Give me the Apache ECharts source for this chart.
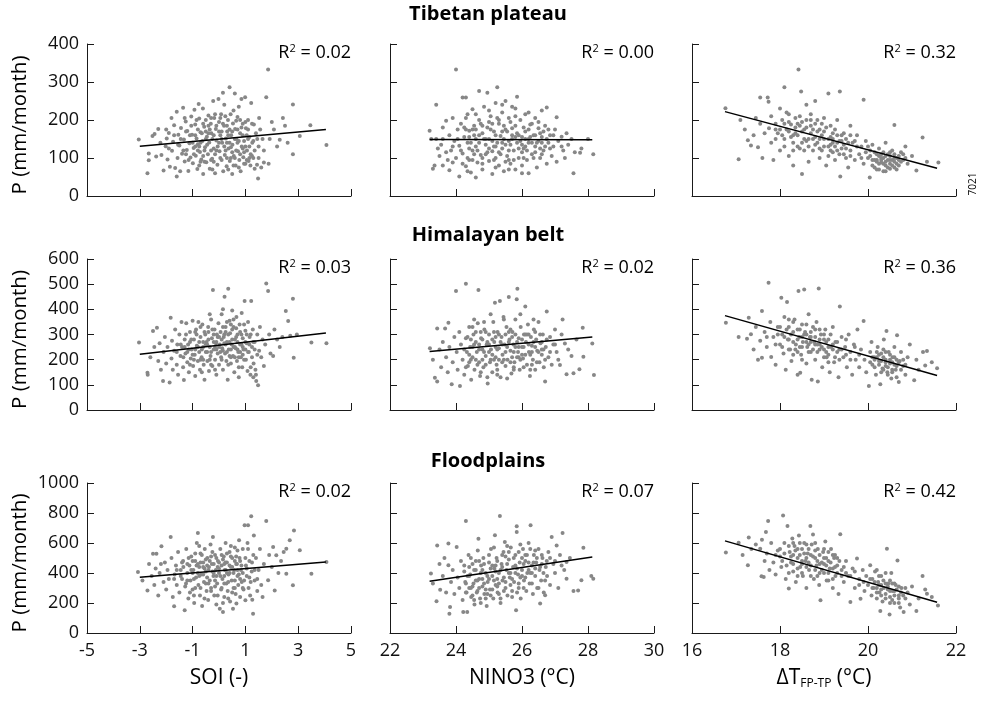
<!DOCTYPE html>
<html>
<head>
<meta charset="utf-8">
<script src="https://cdn.jsdelivr.net/npm/echarts@6/dist/echarts.min.js"></script>
<style>
html,body{margin:0;padding:0;background:#fff;}
#chart{width:982px;height:702px;}
</style>
</head>
<body>
<div id="chart"></div>
<script>
// ---------------- DATA ----------------
const rowTitles = ['Tibetan plateau', 'Himalayan belt', 'Floodplains'];
const xAxisNames = ['SOI (-)', 'NINO3 (°C)', 'ΔT_FP-TP (°C)'];
const yAxisName = 'P (mm/month)';
const xTicks = [[-5, -3, -1, 1, 3, 5], [22, 24, 26, 28, 30], [16, 18, 20, 22]];
const yTicks = [[0, 100, 200, 300, 400], [0, 100, 200, 300, 400, 500, 600], [0, 200, 400, 600, 800, 1000]];
const r2Values = [['0.02', '0.00', '0.32'], ['0.03', '0.02', '0.36'], ['0.02', '0.07', '0.42']];
const figureId = '7021';

// regression line end points [x, P]
const tpSoiFit = [[-3, 131], [4.05, 175]];
const tpNinoFit = [[23.2, 149], [28.13, 148]];
const tpDtFit = [[16.75, 222], [21.57, 73]];
const hbSoiFit = [[-3, 222], [4.05, 306]];
const hbNinoFit = [[23.2, 232], [28.13, 290]];
const hbDtFit = [[16.75, 375], [21.57, 137]];
const fpSoiFit = [[-3, 371], [4.05, 473]];
const fpNinoFit = [[23.2, 345], [28.13, 507]];
const fpDtFit = [[16.75, 614], [21.57, 205]];

// Tibetan plateau points [x, P]
const tpSoi = [[-3.04,149],[-2.71,60],[-2.66,112],[-2.66,94],[-2.52,158],[-2.44,163],[-2.38,104],[-2.3,176],[-2.22,140],[-2.18,108],[-2.1,67],[-2.02,131],[-1.98,151],[-1.95,96],[-1.9,166],[-1.86,77],[-1.8,205],[-1.78,119],[-1.74,143],[-1.7,186],[-1.66,74],[-1.6,222],[-1.6,51],[-1.57,100],[-1.54,161],[-1.5,133],[-1.47,65],[-1.44,179],[-1.4,111],[-1.36,232],[-1.33,149],[-1.3,91],[-1.26,196],[-1.22,121],[-1.2,171],[-1.16,66],[-1.12,139],[-1.08,101],[-1.05,209],[-1.02,161],[-0.99,86],[-0.96,126],[-0.93,227],[-0.9,188],[-0.88,106],[-0.85,151],[-0.82,71],[-0.8,136],[-0.77,242],[-0.75,204],[-0.72,116],[-0.7,168],[-0.67,96],[-0.63,145],[-0.61,230],[-0.6,58],[-0.56,182],[-0.53,128],[-0.5,200],[-0.48,89],[-0.46,156],[-0.42,110],[-0.4,212],[-0.37,141],[-0.35,72],[-0.31,190],[-0.29,165],[-0.26,98],[-0.22,250],[-0.2,125],[-0.18,205],[-0.15,60],[-0.12,176],[-0.1,146],[-0.06,82],[-0.02,255],[0.0,195],[0.02,118],[0.05,160],[0.08,215],[0.1,95],[0.12,140],[0.15,272],[0.16,65],[0.19,185],[0.22,108],[0.24,210],[0.26,151],[0.29,78],[0.31,170],[0.34,200],[0.36,125],[0.4,286],[0.41,92],[0.44,215],[0.46,160],[0.5,58],[0.51,135],[0.53,191],[0.56,105],[0.6,270],[0.61,176],[0.63,80],[0.66,150],[0.7,208],[0.72,118],[0.75,235],[0.77,95],[0.8,165],[0.82,65],[0.85,255],[0.86,130],[0.9,190],[0.92,102],[0.95,145],[0.99,260],[1.0,85],[1.02,178],[1.06,120],[1.1,200],[1.12,92],[1.15,155],[1.19,80],[1.22,245],[1.26,140],[1.3,100],[1.32,188],[1.35,72],[1.4,165],[1.44,82],[1.48,46],[1.5,130],[1.52,205],[1.56,175],[1.6,75],[1.65,150],[1.7,88],[1.79,260],[1.86,333],[1.88,85],[1.92,150],[2.0,195],[2.08,175],[2.2,130],[2.3,148],[2.42,205],[2.5,185],[2.6,140],[2.8,241],[2.8,110],[3.06,158],[3.46,186],[4.07,134],[-0.9,160],[-0.7,140],[-0.5,170],[-0.3,120],[-0.1,185],[0.1,170],[0.3,140],[0.5,115],[0.7,175],[0.9,160],[-0.6,105],[-0.2,160],[0.2,130],[0.6,150],[1.0,130],[-1.0,140],[-0.4,185],[0.4,175],[0.8,110],[-0.8,175],[0.0,140],[0.3,100],[-0.3,95],[0.65,198],[0.05,205],[-0.55,120],[1.25,105],[1.1,150],[0.45,128],[-0.15,110],
[-1.45,150],[-1.35,120],[-1.25,170],[-1.15,95],[-1.05,185],[-0.95,110],[-0.85,200],[-0.75,130],[-0.65,165],[-0.55,90],[-0.45,135],[-0.35,175],[-0.25,150],[-0.15,215],[-0.05,130],[0.05,100],[0.15,190],[0.25,120],[0.35,160],[0.45,100],[0.55,225],[0.65,120],[0.75,145],[0.85,180],[0.95,115],[1.05,160],[1.15,130],[1.25,190],[1.35,120],[1.45,150],[-1.9,125],[-1.7,160],[-2.0,175],[-1.3,205],[-1.1,160],[-0.9,130],[-0.7,90],[-0.5,150],[-0.3,205],[-0.1,120],[0.1,150],[0.3,185],[0.5,170],[0.7,140],[0.9,125],[1.1,175],[1.3,145],[1.5,100],[1.7,120],[-0.8,120],[-0.6,190],[-0.4,165],[-0.2,90],[0.0,170],[0.2,240],[0.4,140],[0.6,100],[0.8,200],[1.0,195],[1.2,110],[0.95,85],[1.05,95],[1.15,100],[0.75,75],[0.55,80],[0.35,70],[-0.25,70],[-0.75,80],[-1.25,110],[-1.55,135]];
const tpNino = [[23.2,172],[23.25,150],[23.3,72],[23.35,80],[23.4,240],[23.4,150],[23.45,125],[23.5,105],[23.55,135],[23.6,180],[23.6,80],[23.7,198],[23.75,95],[23.8,160],[23.8,68],[23.85,120],[23.9,205],[23.9,88],[23.95,145],[24.0,333],[24.0,100],[24.05,175],[24.1,51],[24.1,132],[24.15,190],[24.2,259],[24.2,112],[24.25,155],[24.3,259],[24.3,78],[24.35,215],[24.35,140],[24.4,95],[24.4,172],[24.45,62],[24.5,228],[24.5,120],[24.55,185],[24.6,49],[24.6,150],[24.65,88],[24.7,276],[24.7,200],[24.75,108],[24.8,165],[24.8,70],[24.85,235],[24.9,135],[24.95,272],[24.95,180],[25.0,92],[25.0,150],[25.05,210],[25.1,58],[25.1,118],[25.15,170],[25.2,245],[25.2,100],[25.25,286],[25.25,140],[25.3,190],[25.3,80],[25.35,158],[25.4,220],[25.4,125],[25.45,65],[25.5,175],[25.5,250],[25.55,105],[25.6,145],[25.6,205],[25.65,85],[25.7,235],[25.7,160],[25.75,120],[25.8,185],[25.8,70],[25.85,261],[25.85,140],[25.9,100],[25.95,200],[26.0,155],[26.0,80],[26.05,125],[26.1,215],[26.1,170],[26.15,95],[26.2,140],[26.2,60],[26.25,188],[26.3,110],[26.35,160],[26.4,205],[26.4,130],[26.45,75],[26.5,178],[26.5,145],[26.55,100],[26.6,225],[26.6,155],[26.65,120],[26.7,185],[26.75,233],[26.75,85],[26.8,140],[26.85,160],[26.9,105],[26.95,130],[27.0,175],[27.05,207],[27.05,90],[27.1,145],[27.2,156],[27.25,120],[27.3,100],[27.35,165],[27.4,135],[27.5,150],[27.56,60],[27.6,115],[27.76,114],[27.8,125],[28.0,150],[28.16,110],[24.4,155],[24.6,130],[24.8,185],[25.0,125],[25.2,160],[25.4,140],[25.6,120],[25.8,155],[26.0,135],[26.2,175],[26.4,115],[26.6,140],[24.9,110],[25.3,200],[25.7,178],[26.1,150],[24.5,95],[25.5,90],[26.3,190],[24.7,160],[25.9,125],[25.1,145],[26.7,130],[24.3,175],[25.45,185],[26.55,165],[25.15,95],[24.55,110],[26.05,100],[25.65,195],
[24.05,150],[24.15,120],[24.25,180],[24.35,100],[24.45,140],[24.55,160],[24.65,120],[24.75,190],[24.85,150],[24.95,115],[25.05,175],[25.15,130],[25.25,205],[25.35,110],[25.45,150],[25.55,170],[25.65,135],[25.75,95],[25.85,165],[25.95,145],[26.05,180],[26.15,120],[26.25,155],[26.35,100],[26.45,140],[26.55,125],[26.65,170],[26.75,150],[26.85,125],[26.95,160],[24.2,85],[24.4,125],[24.6,175],[24.8,100],[25.0,195],[25.2,130],[25.4,170],[25.6,95],[25.8,210],[26.0,115],[26.2,150],[26.4,160],[26.6,110],[26.8,175],[24.3,205],[24.7,140],[25.1,190],[25.5,135],[25.9,160],[26.3,140],[24.5,175],[24.9,150],[25.3,115],[25.7,150],[26.1,130],[26.5,195],[23.9,130],[23.7,115],[23.6,150],[27.2,130],[25.2,75],[24.8,85],[25.6,70],[24.35,65],[26.0,60],[25.0,225],[25.4,240],[24.6,215],[26.2,220],[25.8,230]];
const tpDt = [[16.76,231],[17.06,97],[17.1,200],[17.2,175],[17.27,147],[17.34,133],[17.4,160],[17.45,205],[17.5,128],[17.55,259],[17.55,190],[17.6,100],[17.65,165],[17.72,259],[17.74,248],[17.75,178],[17.8,140],[17.8,210],[17.85,95],[17.9,190],[17.95,165],[18.0,120],[18.0,230],[18.05,200],[18.1,286],[18.1,150],[18.15,175],[18.2,105],[18.2,215],[18.25,188],[18.3,140],[18.3,80],[18.35,205],[18.4,160],[18.42,333],[18.45,125],[18.48,275],[18.5,58],[18.5,195],[18.55,175],[18.6,240],[18.6,145],[18.65,90],[18.7,215],[18.7,165],[18.75,120],[18.8,190],[18.8,250],[18.85,140],[18.9,100],[18.9,175],[18.95,160],[19.0,205],[19.0,130],[19.05,80],[19.1,270],[19.1,150],[19.15,185],[19.2,115],[19.2,165],[19.25,95],[19.3,140],[19.3,200],[19.36,275],[19.37,51],[19.4,125],[19.45,165],[19.5,100],[19.5,150],[19.55,75],[19.6,185],[19.6,120],[19.65,140],[19.7,95],[19.75,160],[19.8,110],[19.85,130],[19.9,253],[19.9,85],[19.95,145],[20.0,100],[20.04,49],[20.05,120],[20.1,80],[20.1,135],[20.15,95],[20.2,110],[20.2,70],[20.25,125],[20.3,88],[20.3,100],[20.35,65],[20.35,115],[20.4,140],[20.4,80],[20.45,95],[20.5,105],[20.5,72],[20.55,120],[20.6,187],[20.6,90],[20.65,100],[20.7,80],[20.75,115],[20.8,95],[20.85,130],[20.9,85],[21.0,105],[21.1,67],[21.24,154],[21.34,90],[21.6,88],[18.2,170],[18.4,190],[18.6,180],[18.8,155],[19.0,170],[19.2,140],[19.4,145],[18.5,140],[18.9,125],[19.1,105],[18.3,160],[18.7,200],[19.3,120],[19.6,105],[18.1,190],[17.9,175],[18.45,210],[18.85,170],[19.15,155],[20.3,95],[20.4,105],[20.5,85],[20.6,110],[20.7,95],[20.2,90],[20.45,75],[20.55,95],[20.65,70],[20.25,105],[20.35,85],
[17.9,150],[18.0,175],[18.1,130],[18.2,195],[18.25,155],[18.35,180],[18.4,130],[18.5,170],[18.55,150],[18.6,200],[18.65,130],[18.7,185],[18.75,150],[18.8,135],[18.85,200],[18.9,150],[18.95,120],[19.0,150],[19.05,180],[19.1,130],[19.15,120],[19.2,150],[19.25,175],[19.3,160],[19.35,110],[19.4,160],[19.45,135],[19.5,125],[19.55,140],[19.6,160],[18.15,220],[18.35,165],[18.55,120],[18.75,175],[18.95,190],[19.15,135],[19.35,145],[18.05,160],[18.45,185],[18.65,150],[19.25,130],[19.45,110],[20.05,105],[20.1,95],[20.15,115],[20.2,95],[20.25,85],[20.3,110],[20.35,100],[20.4,90],[20.45,110],[20.5,95],[20.55,80],[20.6,100],[20.65,85],[20.7,105],[20.75,90],[20.8,110],[20.15,75],[20.25,70],[20.4,65],[20.5,115],[20.6,75],[20.85,100],[19.75,130],[19.85,100],[19.95,115],[20.0,130],[19.7,145],[18.3,120]];

// Himalayan belt points [x, P]
const hbSoi = [[-3.03,268],[-2.71,148],[-2.7,140],[-2.6,210],[-2.5,314],[-2.45,250],[-2.35,327],[-2.3,195],[-2.25,265],[-2.2,160],[-2.12,115],[-2.1,230],[-2.05,290],[-2.0,185],[-1.95,250],[-1.87,109],[-1.83,367],[-1.8,205],[-1.78,275],[-1.75,160],[-1.7,235],[-1.66,320],[-1.6,180],[-1.58,260],[-1.55,140],[-1.5,300],[-1.46,215],[-1.42,350],[-1.4,250],[-1.36,170],[-1.33,119],[-1.3,280],[-1.27,225],[-1.24,345],[-1.2,190],[-1.17,260],[-1.14,150],[-1.1,310],[-1.07,205],[-1.04,240],[-1.0,355],[-0.98,175],[-0.95,280],[-0.92,220],[-0.9,135],[-0.87,320],[-0.84,255],[-0.8,195],[-0.78,350],[-0.75,230],[-0.72,160],[-0.7,290],[-0.66,210],[-0.63,340],[-0.6,250],[-0.58,180],[-0.55,120],[-0.52,300],[-0.5,230],[-0.47,270],[-0.44,195],[-0.41,330],[-0.38,155],[-0.35,250],[-0.32,215],[-0.3,360],[-0.27,285],[-0.25,175],[-0.23,477],[-0.2,240],[-0.17,320],[-0.15,200],[-0.12,265],[-0.1,140],[-0.08,300],[-0.05,225],[-0.02,345],[0.0,180],[0.03,260],[0.06,310],[0.08,210],[0.1,380],[0.12,245],[0.15,160],[0.18,290],[0.21,450],[0.23,225],[0.25,330],[0.28,195],[0.3,270],[0.33,120],[0.35,482],[0.37,240],[0.4,355],[0.42,305],[0.45,185],[0.48,260],[0.5,395],[0.53,215],[0.55,330],[0.58,150],[0.6,280],[0.63,245],[0.66,370],[0.68,195],[0.7,300],[0.73,230],[0.75,130],[0.78,340],[0.8,260],[0.83,210],[0.86,385],[0.88,170],[0.9,285],[0.93,240],[0.97,433],[1.0,315],[1.02,200],[1.05,265],[1.08,155],[1.1,350],[1.13,230],[1.16,290],[1.19,140],[1.22,433],[1.25,250],[1.28,320],[1.31,185],[1.35,270],[1.38,160],[1.41,115],[1.45,300],[1.48,98],[1.52,235],[1.55,330],[1.6,210],[1.65,280],[1.7,175],[1.75,260],[1.79,503],[1.86,473],[1.9,300],[1.95,225],[2.05,215],[2.1,320],[2.2,280],[2.3,250],[2.4,290],[2.53,393],[2.62,354],[2.7,295],[2.83,208],[2.8,442],[2.95,300],[3.5,268],[4.07,265],[-0.9,240],[-0.6,270],[-0.3,230],[0.0,250],[0.3,230],[0.6,210],[0.9,250],[-0.4,280],[0.2,265],[0.5,280],[0.8,230],[-0.7,200],[0.1,200],[0.4,215],[0.7,270],[-0.2,300],[1.0,240],[-1.1,270],[0.45,240],[-0.1,270],[0.65,325],[0.25,310],[-0.45,230],[0.85,300],[0.15,235],
[-1.45,260],[-1.35,210],[-1.25,300],[-1.15,240],[-1.05,280],[-0.95,200],[-0.85,300],[-0.75,270],[-0.65,240],[-0.55,310],[-0.45,260],[-0.35,200],[-0.25,320],[-0.15,250],[-0.05,290],[0.05,230],[0.15,330],[0.25,260],[0.35,300],[0.45,210],[0.55,250],[0.65,290],[0.75,210],[0.85,260],[0.95,200],[1.05,300],[1.15,260],[1.25,210],[1.35,240],[1.45,220],[-1.6,230],[-1.2,230],[-0.8,250],[-0.4,310],[0.0,290],[0.4,270],[0.8,310],[1.2,300],[-1.0,220],[-0.6,200],[-0.2,270],[0.2,300],[0.6,250],[1.0,270],[-0.9,310],[-0.5,260],[-0.1,240],[0.3,350],[0.7,240],[1.1,230],[-0.7,330],[-0.3,180],[0.1,280],[0.5,320],[0.9,220],[1.3,270],[-1.3,250],[0.35,180],[0.75,170],[-0.15,160],[0.55,360],[0.15,400],[-0.35,380],[0.95,340],[0.45,340],[1.2,170],[1.4,140],[1.3,130],[-0.65,150],[-1.1,180]];
const hbNino = [[23.21,245],[23.3,200],[23.36,128],[23.43,113],[23.43,324],[23.5,240],[23.55,170],[23.6,270],[23.67,324],[23.7,210],[23.75,150],[23.77,347],[23.8,250],[23.87,102],[23.9,190],[23.95,290],[24.0,473],[24.02,230],[24.05,160],[24.1,310],[24.12,95],[24.15,260],[24.2,200],[24.25,140],[24.3,502],[24.3,285],[24.33,230],[24.36,175],[24.4,330],[24.43,250],[24.46,120],[24.5,210],[24.53,300],[24.56,160],[24.6,270],[24.63,230],[24.66,345],[24.68,477],[24.7,190],[24.73,135],[24.76,285],[24.8,240],[24.83,170],[24.86,320],[24.9,215],[24.93,260],[24.96,105],[25.0,300],[25.03,190],[25.06,240],[25.1,150],[25.13,350],[25.16,270],[25.18,426],[25.2,210],[25.23,180],[25.26,310],[25.3,245],[25.33,433],[25.35,130],[25.38,290],[25.41,220],[25.44,370],[25.47,260],[25.5,175],[25.53,330],[25.56,200],[25.6,449],[25.62,280],[25.65,235],[25.68,145],[25.71,310],[25.74,260],[25.77,190],[25.8,360],[25.84,440],[25.86,482],[25.88,230],[25.9,285],[25.93,160],[25.96,330],[26.0,250],[26.03,205],[26.06,300],[26.1,411],[26.12,270],[26.15,180],[26.18,340],[26.21,230],[26.24,135],[26.27,290],[26.3,255],[26.33,200],[26.36,320],[26.4,160],[26.43,280],[26.46,235],[26.5,350],[26.53,190],[26.56,265],[26.6,220],[26.63,300],[26.66,170],[26.7,113],[26.72,250],[26.75,391],[26.8,210],[26.85,290],[26.9,180],[26.95,260],[27.0,320],[27.05,230],[27.1,200],[27.15,179],[27.23,360],[27.3,264],[27.35,142],[27.4,240],[27.5,215],[27.56,146],[27.65,280],[27.74,162],[27.84,327],[27.86,212],[28.13,264],[28.18,139],[24.5,250],[24.8,280],[25.1,220],[25.4,260],[25.7,210],[26.0,280],[26.3,230],[24.6,200],[25.2,290],[25.8,250],[26.4,250],[24.9,180],[25.5,300],[26.1,220],[25.0,260],[25.3,200],[25.6,310],[26.2,300],[24.7,240],[25.9,210],[24.4,190],[26.6,270],[25.25,160],[25.75,170],[24.85,350],
[24.25,240],[24.35,290],[24.45,200],[24.55,260],[24.65,180],[24.75,310],[24.85,230],[24.95,270],[25.05,200],[25.15,310],[25.25,240],[25.35,270],[25.45,200],[25.55,250],[25.65,320],[25.75,230],[25.85,270],[25.95,200],[26.05,250],[26.15,300],[26.25,220],[26.35,270],[26.45,190],[26.55,300],[26.65,240],[26.75,280],[24.3,170],[24.5,330],[24.7,260],[24.9,310],[25.1,280],[25.3,300],[25.5,230],[25.7,290],[25.9,250],[26.1,300],[26.3,180],[26.5,230],[26.7,200],[24.4,220],[24.6,310],[24.8,200],[25.0,230],[25.2,250],[25.4,190],[25.6,270],[25.8,300],[26.0,220],[26.2,260],[26.4,310],[26.6,240],[24.55,360],[25.05,380],[25.45,360],[25.95,380],[26.35,360],[24.75,150],[25.25,140],[25.75,160],[26.25,160],[25.55,125],[24.95,130],[25.15,200],[25.85,210],[26.05,170],[24.45,280],[25.65,190],[26.85,230],[27.0,260],[27.2,300]];
const hbDt = [[16.77,347],[17.06,290],[17.25,283],[17.29,367],[17.34,301],[17.4,240],[17.45,330],[17.5,200],[17.55,275],[17.59,393],[17.59,208],[17.65,310],[17.7,250],[17.74,506],[17.78,350],[17.8,211],[17.85,290],[17.9,180],[17.95,330],[18.0,260],[18.03,446],[18.05,300],[18.08,225],[18.1,370],[18.13,160],[18.16,429],[18.18,280],[18.2,330],[18.23,240],[18.26,195],[18.3,310],[18.33,360],[18.36,260],[18.4,140],[18.42,473],[18.44,290],[18.46,148],[18.48,220],[18.5,340],[18.52,270],[18.55,479],[18.57,310],[18.6,185],[18.62,250],[18.65,380],[18.68,290],[18.7,230],[18.72,120],[18.75,330],[18.78,270],[18.8,200],[18.83,350],[18.86,113],[18.88,483],[18.9,260],[18.93,300],[18.96,170],[19.0,240],[19.03,320],[19.06,210],[19.1,280],[19.13,150],[19.16,250],[19.2,330],[19.23,190],[19.26,270],[19.3,230],[19.33,130],[19.36,411],[19.4,290],[19.44,210],[19.48,250],[19.52,170],[19.56,300],[19.6,230],[19.64,140],[19.68,260],[19.72,200],[19.76,320],[19.8,170],[19.84,240],[19.9,354],[19.92,200],[19.96,150],[20.02,95],[20.05,230],[20.08,270],[20.1,180],[20.14,210],[20.18,140],[20.22,250],[20.25,195],[20.28,102],[20.3,225],[20.33,165],[20.36,280],[20.4,200],[20.42,314],[20.44,150],[20.47,230],[20.5,185],[20.53,125],[20.56,210],[20.6,250],[20.63,160],[20.66,297],[20.7,111],[20.72,195],[20.75,230],[20.8,175],[20.85,140],[20.9,210],[20.95,260],[21.05,118],[21.1,200],[21.15,160],[21.25,230],[21.3,177],[21.34,234],[21.45,190],[21.57,166],[18.3,270],[18.5,290],[18.7,310],[18.9,240],[19.1,250],[18.4,320],[18.6,270],[18.8,290],[19.0,280],[19.2,260],[18.2,280],[18.45,250],[18.65,230],[18.85,260],[19.05,230],[20.3,195],[20.5,220],[20.6,180],[20.4,175],[20.2,210],[20.55,160],[20.35,240],[20.65,200],[19.5,280],[19.35,240],
[17.9,260],[17.95,300],[18.0,330],[18.05,250],[18.1,290],[18.15,320],[18.2,240],[18.25,300],[18.3,350],[18.35,240],[18.4,280],[18.45,320],[18.5,250],[18.55,300],[18.6,340],[18.65,260],[18.7,290],[18.75,240],[18.8,320],[18.85,230],[18.9,280],[18.95,250],[19.0,300],[19.05,270],[19.1,220],[19.15,300],[19.2,240],[19.25,210],[19.3,270],[19.35,200],[18.2,360],[18.4,230],[18.6,300],[18.8,260],[19.0,210],[18.3,220],[18.5,200],[18.7,270],[18.9,320],[19.1,190],[20.05,190],[20.1,210],[20.15,170],[20.2,230],[20.25,180],[20.3,150],[20.35,210],[20.4,190],[20.45,170],[20.5,200],[20.55,150],[20.6,210],[20.65,175],[20.7,190],[20.75,160],[20.8,200],[20.85,180],[20.25,220],[20.45,140],[20.65,130],[20.4,230],[20.55,190],[20.15,200],[20.35,160],[19.4,240],[19.6,200],[19.8,220],[19.7,250],[19.5,220],[17.7,290]];

// Floodplains points [x, P]
const fpSoi = [[-3.07,407],[-2.9,350],[-2.71,284],[-2.65,460],[-2.55,380],[-2.5,529],[-2.45,320],[-2.4,430],[-2.37,529],[-2.3,250],[-2.25,400],[-2.18,578],[-2.1,340],[-2.05,470],[-2.0,290],[-1.95,420],[-1.9,360],[-1.83,640],[-1.8,500],[-1.75,240],[-1.7,178],[-1.68,390],[-1.63,450],[-1.6,320],[-1.55,540],[-1.5,270],[-1.45,420],[-1.4,360],[-1.36,480],[-1.3,151],[-1.28,310],[-1.24,560],[-1.2,400],[-1.16,230],[-1.12,450],[-1.08,350],[-1.05,510],[-1.0,290],[-0.97,420],[-0.94,200],[-0.9,480],[-0.87,370],[-0.84,600],[-0.8,667],[-0.78,320],[-0.75,440],[-0.72,250],[-0.7,530],[-0.67,390],[-0.64,180],[-0.6,470],[-0.57,340],[-0.54,560],[-0.5,410],[-0.47,280],[-0.44,500],[-0.41,220],[-0.38,440],[-0.35,350],[-0.32,590],[-0.3,300],[-0.27,460],[-0.23,640],[-0.21,380],[-0.18,250],[-0.15,520],[-0.12,420],[-0.1,190],[-0.07,330],[-0.04,480],[0.0,400],[0.03,162],[0.05,560],[0.08,290],[0.1,450],[0.13,360],[0.15,140],[0.18,510],[0.2,240],[0.22,420],[0.25,600],[0.28,330],[0.3,470],[0.33,280],[0.36,390],[0.4,540],[0.42,210],[0.45,440],[0.48,350],[0.5,500],[0.53,162],[0.55,300],[0.58,420],[0.6,570],[0.63,260],[0.66,196],[0.68,460],[0.7,380],[0.73,320],[0.76,618],[0.78,500],[0.8,240],[0.83,420],[0.86,340],[0.9,560],[0.93,290],[0.97,718],[1.0,218],[1.02,450],[1.05,380],[1.08,600],[1.1,718],[1.12,300],[1.15,480],[1.18,250],[1.22,778],[1.24,410],[1.26,222],[1.29,129],[1.32,650],[1.35,350],[1.4,500],[1.45,280],[1.5,420],[1.55,560],[1.6,320],[1.65,240],[1.7,460],[1.79,747],[1.86,351],[1.9,520],[2.0,440],[2.05,573],[2.11,284],[2.17,518],[2.25,400],[2.35,480],[2.45,540],[2.55,562],[2.55,395],[2.68,618],[2.8,318],[2.84,684],[3.06,551],[3.5,395],[4.07,473],[-1.0,400],[-0.8,460],[-0.6,390],[-0.4,420],[-0.2,460],[0.0,470],[0.2,380],[0.4,450],[0.6,350],[0.8,480],[-0.9,300],[-0.5,330],[-0.1,380],[0.3,400],[0.7,420],[-1.2,350],[-0.3,510],[0.1,520],[0.5,440],[0.9,400],[-0.7,470],[0.25,470],[-0.15,310],[0.65,510],[-0.45,450],
[-1.45,380],[-1.35,440],[-1.25,330],[-1.15,500],[-1.05,420],[-0.95,360],[-0.85,450],[-0.75,380],[-0.65,520],[-0.55,430],[-0.45,370],[-0.35,480],[-0.25,410],[-0.15,350],[-0.05,440],[0.05,380],[0.15,490],[0.25,420],[0.35,340],[0.45,510],[0.55,400],[0.65,460],[0.75,390],[0.85,450],[0.95,350],[1.05,430],[1.15,370],[1.25,470],[1.35,420],[1.45,360],[-1.6,420],[-1.2,460],[-0.8,400],[-0.4,330],[0.0,430],[0.4,400],[0.8,360],[1.2,340],[-1.0,480],[-0.6,440],[-0.2,400],[0.2,460],[0.6,480],[1.0,500],[-0.9,530],[-0.5,490],[-0.1,500],[0.3,530],[0.7,550],[-0.7,300],[-0.3,280],[0.1,300],[0.5,270],[0.9,300],[-1.1,270],[-0.05,250],[0.35,230],[0.15,200],[-0.55,230],[-0.95,250],[0.6,300],[0.2,330],[-0.25,540],[0.45,580],[-0.75,580],[1.1,560],[1.3,520],[-1.4,470],[-1.7,360],[-2.2,460]];
const fpNino = [[23.24,396],[23.3,330],[23.41,211],[23.43,584],[23.5,460],[23.52,289],[23.6,380],[23.65,500],[23.7,270],[23.77,451],[23.77,596],[23.8,129],[23.82,173],[23.85,340],[23.9,420],[23.95,260],[24.02,573],[24.05,370],[24.1,300],[24.15,480],[24.2,220],[24.22,140],[24.25,410],[24.28,340],[24.3,747],[24.32,270],[24.34,140],[24.38,520],[24.4,300],[24.43,390],[24.46,240],[24.5,460],[24.53,330],[24.56,190],[24.6,420],[24.63,270],[24.66,550],[24.68,629],[24.7,360],[24.73,230],[24.76,450],[24.8,310],[24.83,500],[24.86,260],[24.9,400],[24.93,180],[24.96,340],[25.0,470],[25.03,290],[25.06,560],[25.1,380],[25.13,230],[25.16,430],[25.18,651],[25.2,320],[25.23,500],[25.26,270],[25.3,400],[25.33,780],[25.35,200],[25.38,460],[25.41,350],[25.44,540],[25.48,607],[25.5,300],[25.53,420],[25.56,250],[25.6,490],[25.63,370],[25.66,570],[25.7,280],[25.73,440],[25.76,340],[25.8,520],[25.82,151],[25.84,673],[25.84,711],[25.88,390],[25.9,300],[25.93,470],[25.96,230],[26.0,420],[26.03,560],[26.06,350],[26.1,480],[26.13,280],[26.16,400],[26.2,600],[26.23,330],[26.26,718],[26.3,450],[26.33,260],[26.36,520],[26.4,380],[26.43,470],[26.46,300],[26.5,560],[26.53,420],[26.55,196],[26.58,350],[26.62,500],[26.66,270],[26.7,251],[26.72,440],[26.76,380],[26.8,540],[26.85,320],[26.9,640],[26.95,460],[27.0,400],[27.05,584],[27.1,300],[27.15,520],[27.23,667],[27.28,420],[27.35,473],[27.35,362],[27.45,500],[27.56,280],[27.7,284],[27.8,351],[27.86,569],[28.1,380],[28.16,362],[24.4,380],[24.6,350],[24.8,420],[25.0,360],[25.2,410],[25.4,440],[25.6,400],[25.8,450],[26.0,380],[26.2,470],[26.4,430],[24.5,310],[24.9,290],[25.3,330],[25.7,360],[26.1,520],[24.7,480],[25.5,510],[26.3,400],[25.1,450],[24.3,330],[25.9,540],[26.6,460],[25.25,360],[24.95,260],
[24.25,450],[24.35,380],[24.45,500],[24.55,420],[24.65,350],[24.75,400],[24.85,460],[24.95,380],[25.05,430],[25.15,350],[25.25,480],[25.35,420],[25.45,370],[25.55,460],[25.65,400],[25.75,500],[25.85,430],[25.95,370],[26.05,460],[26.15,520],[26.25,400],[26.35,470],[26.45,500],[26.55,440],[26.65,400],[26.75,480],[24.3,270],[24.5,250],[24.7,300],[24.9,230],[25.1,290],[25.3,260],[25.5,340],[25.7,240],[25.9,330],[26.1,370],[26.3,330],[26.5,300],[26.7,350],[24.4,440],[24.6,480],[24.8,360],[25.0,520],[25.2,450],[25.4,520],[25.6,540],[25.8,400],[26.0,500],[26.2,420],[26.4,550],[26.6,520],[24.45,300],[24.85,330],[25.25,310],[25.65,320],[26.05,300],[24.65,280],[25.05,250],[25.45,280],[25.85,270],[24.55,220],[24.75,200],[25.35,230],[25.95,590],[25.55,580],[26.25,560],[25.15,570],[26.85,500],[27.0,480],[27.2,450]];
const fpDt = [[16.77,536],[17.06,602],[17.15,520],[17.27,451],[17.29,636],[17.35,560],[17.45,590],[17.55,562],[17.58,378],[17.59,622],[17.63,373],[17.65,480],[17.68,673],[17.7,530],[17.73,747],[17.76,420],[17.8,600],[17.85,470],[17.9,390],[17.95,550],[18.0,510],[18.03,440],[18.07,784],[18.1,600],[18.13,360],[18.17,713],[18.2,296],[18.22,540],[18.25,470],[18.28,630],[18.3,410],[18.33,580],[18.36,340],[18.4,500],[18.43,650],[18.46,440],[18.5,560],[18.52,380],[18.55,600],[18.58,480],[18.6,300],[18.63,530],[18.66,420],[18.69,713],[18.72,590],[18.75,656],[18.77,360],[18.8,500],[18.83,450],[18.86,560],[18.89,320],[18.92,218],[18.95,470],[18.98,540],[19.0,400],[19.03,610],[19.06,350],[19.1,480],[19.13,430],[19.16,560],[19.2,300],[19.23,500],[19.26,380],[19.3,450],[19.33,260],[19.37,658],[19.4,420],[19.45,340],[19.5,480],[19.55,380],[19.6,207],[19.65,430],[19.7,300],[19.75,496],[19.8,360],[19.83,229],[19.88,420],[19.92,280],[19.96,380],[20.0,320],[20.05,451],[20.08,250],[20.1,360],[20.13,300],[20.16,410],[20.2,230],[20.23,340],[20.26,270],[20.28,147],[20.3,380],[20.33,210],[20.36,300],[20.4,260],[20.43,562],[20.46,330],[20.49,124],[20.5,240],[20.53,400],[20.56,280],[20.6,200],[20.63,320],[20.67,484],[20.7,250],[20.73,170],[20.76,300],[20.81,140],[20.85,230],[20.9,270],[20.95,190],[21.0,310],[21.1,147],[21.15,230],[21.24,380],[21.3,290],[21.34,262],[21.45,240],[21.59,184],[18.4,560],[18.6,440],[18.8,550],[19.0,500],[19.2,430],[18.5,480],[18.7,520],[18.9,400],[19.1,540],[18.3,520],[18.45,600],[18.65,470],[18.85,380],[19.05,450],[19.25,520],[20.2,300],[20.4,330],[20.6,280],[20.3,250],[20.5,350],[20.7,310],[20.25,380],[20.55,220],[20.45,290],[19.5,400],
[18.0,560],[18.05,480],[18.1,530],[18.15,450],[18.2,580],[18.25,510],[18.3,460],[18.35,550],[18.4,430],[18.45,520],[18.5,460],[18.55,530],[18.6,500],[18.65,560],[18.7,450],[18.75,510],[18.8,420],[18.85,480],[18.9,520],[18.95,420],[19.0,460],[19.05,500],[19.1,400],[19.15,470],[19.2,520],[19.25,440],[19.3,400],[19.35,480],[19.4,380],[19.45,440],[18.2,400],[18.4,380],[18.6,590],[18.8,600],[19.0,560],[19.2,360],[18.3,600],[18.5,400],[18.7,380],[18.9,460],[19.1,350],[19.3,500],[20.05,360],[20.1,300],[20.15,340],[20.2,270],[20.25,320],[20.3,290],[20.35,350],[20.4,230],[20.45,310],[20.5,280],[20.55,330],[20.6,250],[20.65,290],[20.7,230],[20.75,270],[20.8,250],[20.85,300],[20.3,320],[20.5,200],[20.7,200],[20.4,400],[20.2,420],[20.6,330],[19.6,380],[19.7,410],[19.8,320],[19.9,340],[17.9,520]];

// ---------------- LAYOUT / STYLE ----------------
const points = [[tpSoi, tpNino, tpDt], [hbSoi, hbNino, hbDt], [fpSoi, fpNino, fpDt]];
const fits = [[tpSoiFit, tpNinoFit, tpDtFit], [hbSoiFit, hbNinoFit, hbDtFit], [fpSoiFit, fpNinoFit, fpDtFit]];
const colLeft = [87, 390, 692];
const colWidth = 264;
const rowTop = [44, 259, 483];
const rowHeight = [152, 151, 150];
const FONT = '"Open Sans", "Noto Sans", sans-serif';
const AXIS_COLOR = '#1a1a1a';
const DOT_COLOR = '#878787';

const chart = echarts.init(document.getElementById('chart'), null, { renderer: 'canvas' });

const grids = [], xAxes = [], yAxes = [], series = [], graphics = [];
for (let r = 0; r < 3; r++) {
  for (let c = 0; c < 3; c++) {
    const i = r * 3 + c;
    grids.push({ left: colLeft[c], top: rowTop[r], width: colWidth, height: rowHeight[r], containLabel: false });
    const xt = xTicks[c], yt = yTicks[r];
    xAxes.push({
      type: 'value', gridIndex: i, min: xt[0], max: xt[xt.length - 1], interval: 2,
      axisLine: { show: true, onZero: false, lineStyle: { color: AXIS_COLOR, width: 1 } },
      axisTick: { show: true, inside: true, length: 7, customValues: xt, lineStyle: { color: AXIS_COLOR, width: 1 } },
      axisLabel: { show: r === 2, customValues: xt, margin: 9, color: '#111', fontSize: 18, fontFamily: FONT, formatter: v => String(v) },
      splitLine: { show: false }
    });
    yAxes.push({
      type: 'value', gridIndex: i, min: 0, max: yt[yt.length - 1], interval: yt[1] - yt[0],
      axisLine: { show: true, onZero: false, lineStyle: { color: AXIS_COLOR, width: 1 } },
      axisTick: { show: true, inside: true, length: 7, customValues: yt, lineStyle: { color: AXIS_COLOR, width: 1 } },
      axisLabel: { show: c === 0, customValues: yt, margin: 8, color: '#111', fontSize: 18, fontFamily: FONT, formatter: v => String(v) },
      splitLine: { show: false }
    });
    series.push({
      type: 'scatter', xAxisIndex: i, yAxisIndex: i, data: points[r][c],
      symbol: 'circle', symbolSize: 4, itemStyle: { color: DOT_COLOR, opacity: 1 }, silent: true, z: 2
    });
    series.push({
      type: 'line', xAxisIndex: i, yAxisIndex: i, data: fits[r][c], showSymbol: false, symbol: 'none',
      lineStyle: { color: '#000', width: 1.5 }, silent: true, z: 3
    });
    // R² label
    graphics.push({
      type: 'text', x: colLeft[c] + colWidth, y: rowTop[r] + 9, silent: true,
      style: {
        text: '{r|R}{s|2}{r| = ' + r2Values[r][c] + '}', align: 'right', verticalAlign: 'middle',
        rich: {
          r: { fontSize: 18, fontFamily: FONT, fill: '#000', lineHeight: 19 },
          s: { fontSize: 11, fontFamily: FONT, fill: '#000', lineHeight: 12, verticalAlign: 'top' }
        }
      }
    });
  }
  // Row titles
  graphics.push({
    type: 'text', x: 488, y: [14, 235, 461][r], silent: true,
    style: { text: rowTitles[r], align: 'center', verticalAlign: 'middle', fontSize: 20, fontWeight: 'bold', fontFamily: FONT, fill: '#000' }
  });
  // Y axis name
  graphics.push({
    type: 'text', x: 20, y: rowTop[r] + rowHeight[r] / 2 + 5, rotation: Math.PI / 2, silent: true,
    style: { text: yAxisName, align: 'center', verticalAlign: 'middle', fontSize: 20.5, fontFamily: FONT, fill: '#000' }
  });
}
// X axis names
for (let c = 0; c < 3; c++) {
  const name = xAxisNames[c];
  let text;
  if (name.indexOf('_') >= 0) {
    const parts = name.split('_');            // 'ΔT', 'FP-TP (°C)'
    const sub = parts[1].split(' ')[0];
    const rest = parts[1].slice(sub.length);
    text = '{a|' + parts[0] + '}{b|' + sub + '}{a|' + rest + '}';
  } else {
    text = '{a|' + name + '}';
  }
  graphics.push({
    type: 'text', x: colLeft[c] + colWidth / 2, y: 678, silent: true,
    style: {
      text: text, align: 'center', verticalAlign: 'middle',
      rich: {
        a: { fontSize: 21, fontFamily: FONT, fill: '#000', lineHeight: 24 },
        b: { fontSize: 12, fontFamily: FONT, fill: '#000', lineHeight: 13, verticalAlign: 'bottom' }
      }
    }
  });
}
// figure id
graphics.push({
  type: 'text', x: 973, y: 184, rotation: Math.PI / 2, silent: true,
  style: { text: figureId, align: 'center', verticalAlign: 'middle', fontSize: 10, fontFamily: FONT, fill: '#000' }
});

chart.setOption({
  animation: false,
  backgroundColor: '#fff',
  grid: grids,
  xAxis: xAxes,
  yAxis: yAxes,
  series: series,
  graphic: graphics
});
</script>
</body>
</html>
